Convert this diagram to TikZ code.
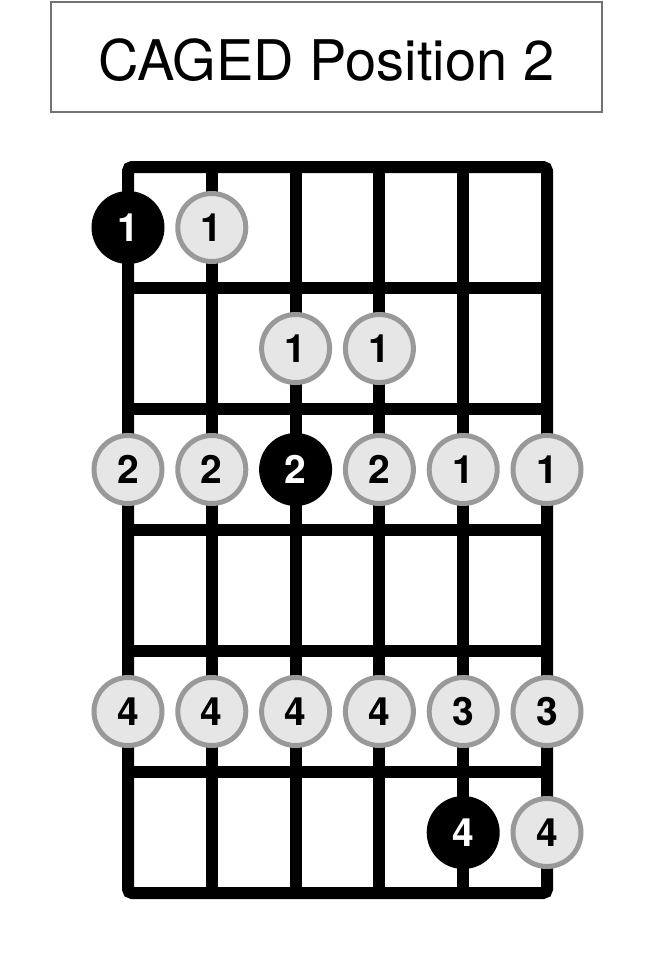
\documentclass[tikz,border=0pt]{standalone}
\usepackage{fontspec}
\setmainfont{TeX Gyre Heros}
\usepackage{tikz}
\usetikzlibrary{positioning, shapes}
\definecolor{ringgray}{HTML}{999999}
\definecolor{dotgray}{HTML}{E6E6E6}
\definecolor{boxgray}{HTML}{737373}
\tikzstyle{title} = [rectangle, draw=boxgray, line width=2pt, minimum width=551pt, minimum height=110pt, inner sep=0pt]
\tikzstyle{note} = [circle, minimum size=68pt, inner sep=0pt, draw=ringgray, line width=5pt, fill=dotgray, text=black, font=\fontsize{39}{39}\selectfont\bfseries]
\tikzstyle{root} = [circle, minimum size=68pt, inner sep=0pt, draw=black, line width=5pt, fill=black, text=white, font=\fontsize{39}{39}\selectfont\bfseries]
\tikzstyle{fret} = [line width=12pt, black]

\begin{document}
\begin{tikzpicture}[x=1pt, y=-1pt]
\useasboundingbox (0,0) rectangle (654,962);
\node (Box) [title] at (326.5,57) {};
\node (Title) [anchor=base, font=\fontsize{56}{56}\selectfont] at (326.5,80) {CAGED Position 2};

% fretboard
\draw [fret, rounded corners=4pt] (128,167) rectangle (547,893);
\foreach \x in {211.8, 295.6, 379.4, 463.2}
  \draw [fret] (\x,167) -- (\x,893);
\foreach \y in {288, 409, 530, 651, 772}
  \draw [fret] (128,\y) -- (547,\y);

% first fret
\node (R1a) [root] at (128,227.5) {1};
\node (N1b) [note] at (211.8,227.5) {1};
% second fret
\node (N2c) [note] at (295.6,348.5) {1};
\node (N2d) [note] at (379.4,348.5) {1};
% third fret
\node (N3a) [note] at (128,469.5) {2};
\node (N3b) [note] at (211.8,469.5) {2};
\node (R3c) [root] at (295.6,469.5) {2};
\node (N3d) [note] at (379.4,469.5) {2};
\node (N3e) [note] at (463.2,469.5) {1};
\node (N3f) [note] at (547,469.5) {1};
% fifth fret
\node (N5a) [note] at (128,711.5) {4};
\node (N5b) [note] at (211.8,711.5) {4};
\node (N5c) [note] at (295.6,711.5) {4};
\node (N5d) [note] at (379.4,711.5) {4};
\node (N5e) [note] at (463.2,711.5) {3};
\node (N5f) [note] at (547,711.5) {3};
% sixth fret
\node (R6e) [root] at (463.2,832.5) {4};
\node (N6f) [note] at (547,832.5) {4};
\end{tikzpicture}
\end{document}
